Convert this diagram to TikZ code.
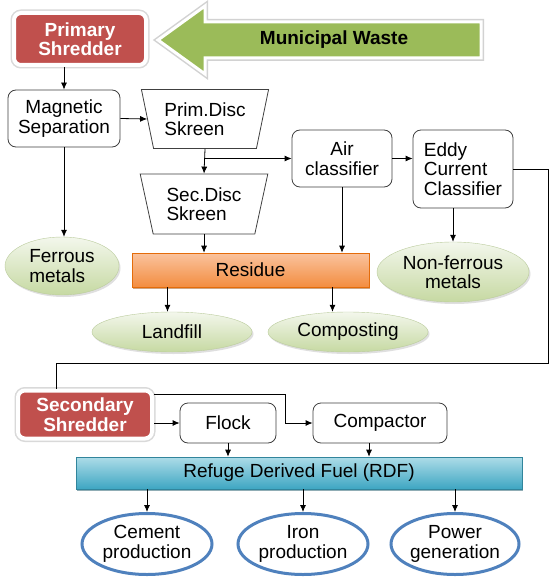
\documentclass[tikz,border=0pt]{standalone}
\usepackage{fontspec}
\setmainfont{Liberation Sans}
\usetikzlibrary{shapes.geometric,arrows.meta,shadows}
\definecolor{shredRed}{HTML}{C0504D}
\definecolor{wasteGreen}{HTML}{9BBB59}
\definecolor{leafTop}{HTML}{F3F7EC}
\definecolor{leafBot}{HTML}{C6D9A2}
\definecolor{resTop}{HTML}{FAC39E}
\definecolor{resBot}{HTML}{F38D40}
\definecolor{resLine}{HTML}{E46C0A}
\definecolor{fuelTop}{HTML}{ADDCE8}
\definecolor{fuelBot}{HTML}{3EA6C2}
\definecolor{fuelLine}{HTML}{31859C}
\definecolor{useBlue}{HTML}{4F81BD}
\tikzset{
  every node/.style={font=\fontsize{19}{19.5}\selectfont, inner sep=0pt},
  shredder/.style={rectangle, rounded corners=7pt, fill=shredRed, text=white,
    font=\fontsize{19}{19.5}\selectfont\bfseries, align=center,
    draw=white, line width=4pt, preaction={draw=gray!30, line width=7pt}},
  proc/.style={rectangle, rounded corners=8pt, draw=black!75, line width=0.8pt, fill=white, align=center},
  skreen/.style={trapezium, shape border rotate=180, trapezium stretches=true, trapezium angle=74,
    draw=black!75, line width=0.8pt, fill=white, align=left, minimum width=128, minimum height=59},
  leaf/.style={ellipse, top color=leafTop, bottom color=leafBot, draw=leafBot!85!gray, line width=0.4pt,
    drop shadow={opacity=0.25, shadow xshift=1.5pt, shadow yshift=-2pt}},
  residue/.style={rectangle, top color=resTop, bottom color=resBot, draw=resLine, line width=0.6pt,
    drop shadow={opacity=0.5, shadow xshift=1pt, shadow yshift=-2pt, fill=resLine!70!black}},
  fuel/.style={rectangle, top color=fuelTop, bottom color=fuelBot, draw=fuelLine, line width=0.6pt,
    drop shadow={opacity=0.5, shadow xshift=1pt, shadow yshift=-2pt, fill=fuelLine!70!black}},
  use/.style={ellipse, fill=white, draw=useBlue, line width=3pt, align=center},
  flow/.style={->, >={Latex[length=7pt,width=6pt]}, line width=0.8pt}
}
\begin{document}
\begin{tikzpicture}[x=1pt,y=-1pt]
\useasboundingbox (0,0) rectangle (554,577);
\fill[white] (0,0) rectangle (554,577);
\draw[gray!35, line width=6pt, line join=miter] (158,40) -- (205,6) -- (205,22) -- (481,22) -- (481,58) -- (205,58) -- (205,74) -- cycle;
\draw[white, fill=wasteGreen, line width=3pt, line join=miter] (158,40) -- (205,6) -- (205,22) -- (481,22) -- (481,58) -- (205,58) -- (205,74) -- cycle;
\node (waste) at (334,40)[font=\fontsize{19}{19.5}\selectfont\bfseries] {Municipal Waste};
\node (shred1) at (80,39)[shredder, minimum width=132, minimum height=52] {Primary\\Shredder};
\node (mag) at (64,118.5)[proc, minimum width=112, minimum height=57] {Magnetic\\Separation};
\node (prim) at (205,119)[skreen] {Prim.Disc\\Skreen};
\node (sec) at (204,204)[skreen, minimum height=60] {Sec.Disc\\Skreen};
\node (air) at (342,158.5)[proc, minimum width=100, minimum height=57] {Air\\classifier};
\node (eddy) at (463,169)[proc, align=left, minimum width=100, minimum height=78] {Eddy\\Current\\Classifier};
\node (ferrous) at (62,266)[leaf, align=left, minimum width=114, minimum height=58] {Ferrous\\metals};
\node (residue) at (250.5,270)[residue, minimum width=237, minimum height=34] {Residue};
\node (nonfer) at (453,272)[leaf, align=center, minimum width=152, minimum height=60] {Non-ferrous\\metals};
\node (landfill) at (172,332)[leaf, minimum width=160, minimum height=40] {Landfill};
\node (compost) at (348,332)[leaf, minimum width=160, minimum height=40] {Composting};
\node (shred2) at (85,414.5)[shredder, minimum width=134, minimum height=48] {Secondary\\Shredder};
\node (flock) at (228,423)[proc, minimum width=96, minimum height=40] {Flock};
\node (comp) at (380,423)[proc, minimum width=134, minimum height=40] {Compactor};
\node (rdf) at (299,473)[fuel, minimum width=446, minimum height=32] {Refuge Derived Fuel (RDF)};
\node (cement) at (147,544)[use, minimum width=130, minimum height=61] {Cement\\production};
\node (iron) at (303,544)[use, minimum width=130, minimum height=61] {Iron\\production};
\node (power) at (455,544)[use, minimum width=128, minimum height=61] {Power\\generation};
\coordinate (edge) at (548,363);
\coordinate (drop) at (56,363);
\coordinate (bend) at (285,394);
\draw[flow] (shred1.south -| mag.north) -- (mag.north);
\draw[flow] (mag.east) -- (prim.west);
\draw[flow] (prim.south) -- (sec.north);
\draw[flow] (prim.south |- air.west) -- (air.west);
\draw[flow] (air.east) -- (air.east -| eddy.west);
\draw[flow] (mag.south) -- (mag.south |- ferrous.north);
\draw[flow] (sec.south) -- (sec.south |- residue.north);
\draw[flow] (air.south) -- (air.south |- residue.north);
\draw[flow] (eddy.south -| nonfer.north) -- (nonfer.north);
\draw[flow] ([xshift=-83pt]residue.south) -- ([xshift=-83pt]residue.south |- landfill.north);
\draw[flow] ([xshift=82pt]residue.south) -- ([xshift=82pt]residue.south |- compost.north);
\draw[line width=0.8pt] (eddy.east) -| (edge) -- (drop) -- (drop |- shred2.north);
\draw[flow] (shred2.east |- flock.west) -- (flock.west);
\draw[flow] (shred2.east |- bend) -- (bend) |- (comp.west);
\draw[flow] (flock.south) -- (flock.south |- rdf.north);
\draw[flow] ([xshift=-11pt]comp.south) -- ([xshift=-11pt]comp.south |- rdf.north);
\draw[flow] (cement.north |- rdf.south) -- (cement.north);
\draw[flow] (iron.north |- rdf.south) -- (iron.north);
\draw[flow] (power.north |- rdf.south) -- (power.north);
\end{tikzpicture}
\end{document}
